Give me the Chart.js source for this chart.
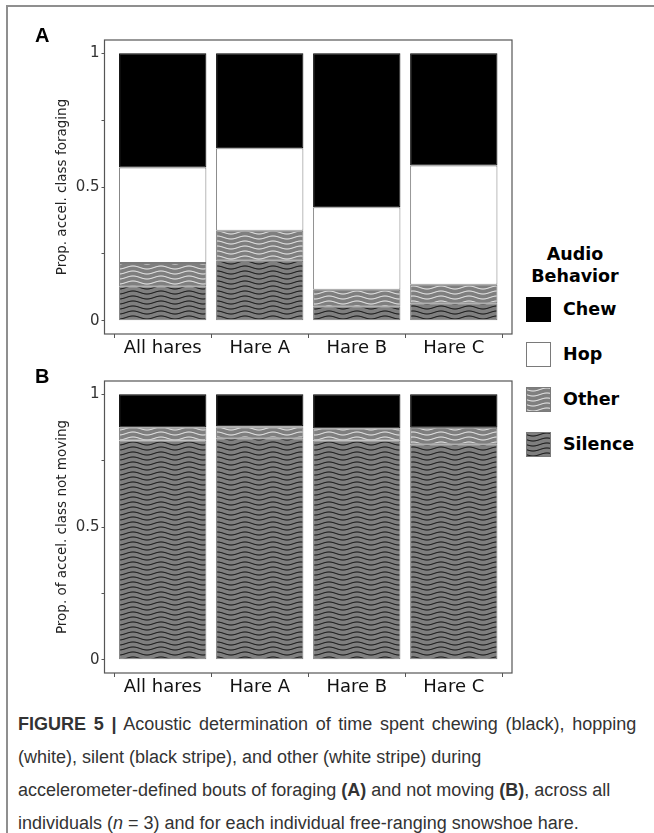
<!DOCTYPE html>
<html><head><meta charset="utf-8">
<script src="https://cdn.jsdelivr.net/npm/chart.js@4"></script>
<style>
html,body{margin:0;padding:0;background:#fff;width:654px;height:833px;overflow:hidden;position:relative;}
#frame{position:absolute;left:6px;top:5px;width:700px;height:900px;border-left:2px solid #8f8f8f;border-top:2px solid #8f8f8f;}
canvas.panel{position:absolute;left:0;}
.letter{position:absolute;font:bold 20px "Liberation Sans",Arial,sans-serif;color:#000;}
#legTitle{position:absolute;left:520px;width:110px;top:243px;text-align:center;font:bold 17.5px "DejaVu Sans";line-height:22px;color:#000;}
.key{position:absolute;left:526px;width:25px;height:25px;}
.klab{position:absolute;left:563px;font:bold 17.5px "DejaVu Sans";line-height:25px;color:#000;}
#caption{position:absolute;left:18px;top:708px;width:640px;font:18px "Liberation Sans",Arial,sans-serif;line-height:33px;color:#333;white-space:nowrap;}
#caption .l1{word-spacing:2.7px;}
</style></head>
<body>
<div id="frame"></div>
<canvas id="cA" class="panel" width="520" height="366" style="top:0px"></canvas>
<canvas id="cB" class="panel" width="520" height="364" style="top:341px"></canvas>
<div class="letter" style="left:35px;top:24px">A</div>
<div class="letter" style="left:35px;top:365px">B</div>
<div id="legTitle">Audio<br>Behavior</div>
<div id="legend"></div>
<div id="caption"><span class="l1"><b>FIGURE 5 |</b> Acoustic determination of time spent chewing (black), hopping</span><br>(white), silent (black stripe), and other (white stripe) during<br>accelerometer-defined bouts of foraging <b>(A)</b> and not moving <b>(B)</b>, across all<br>individuals (<i>n</i> = 3) and for each individual free-ranging snowshoe hare.</div>
<script>
// ---- data ----
const categories = ['All hares', 'Hare A', 'Hare B', 'Hare C'];
const behaviors = ['Silence', 'Other', 'Hop', 'Chew'];
const legendOrder = ['Chew', 'Hop', 'Other', 'Silence'];
const yTickValues = [0, 0.5, 1];
const yTickLabels = ['0', '0.5', '1'];
// Panel A: foraging
const foragingSilence = [0.129, 0.224, 0.052, 0.065];
const foragingOther   = [0.087, 0.112, 0.064, 0.069];
const foragingHop     = [0.357, 0.309, 0.308, 0.446];
const foragingChew    = [0.427, 0.355, 0.576, 0.420];
// Panel B: not moving
const stillSilence = [0.826, 0.834, 0.826, 0.812];
const stillOther   = [0.049, 0.042, 0.045, 0.062];
const stillHop     = [0.000, 0.004, 0.000, 0.000];
const stillChew    = [0.125, 0.120, 0.129, 0.126];

function waveTile(lineColor){
  const c = document.createElement('canvas');
  c.width = 28; c.height = 5;
  const g = c.getContext('2d');
  g.fillStyle = '#7f7f7f'; g.fillRect(0,0,28,5);
  g.strokeStyle = lineColor; g.lineWidth = 1;
  for (let k=-1;k<=1;k++){
    g.beginPath();
    for (let x=0;x<=28;x+=0.5){
      const y = 2.5 + k*5 + 1.5*Math.sin(2*Math.PI*x/28);
      if (x===0) g.moveTo(x,y); else g.lineTo(x,y);
    }
    g.stroke();
  }
  return c;
}
const tiles = {Silence: waveTile('#000'), Other: waveTile('#fff')};

const boxPlugin = {id:'box', afterDraw(chart){
  const {ctx, chartArea:a} = chart;
  ctx.save(); ctx.strokeStyle='#555'; ctx.lineWidth=1.2;
  ctx.strokeRect(a.left, a.top, a.right-a.left, a.bottom-a.top);
  ctx.restore();
}};

function makePanel(id, series, title){
  const canvas = document.getElementById(id);
  const ctx = canvas.getContext('2d');
  const fills = {
    Silence: ctx.createPattern(tiles.Silence,'repeat'),
    Other: ctx.createPattern(tiles.Other,'repeat'),
    Hop: '#ffffff', Chew: '#000000'
  };
  const datasets = behaviors.map((b,i)=>({
    label: b,
    data: series[i].map((v,j)=>({x:j+1, y:v})),
    backgroundColor: fills[b],
    borderColor: b==='Chew' ? '#000' : '#7a7a7a',
    borderWidth: 1,
    borderSkipped: false,
    categoryPercentage: 1,
    barPercentage: 0.9
  }));
  return new Chart(ctx, {
    type:'bar',
    data:{datasets},
    plugins:[boxPlugin],
    options:{
      responsive:false, animation:false, maintainAspectRatio:false,
      layout:{padding:{top:40, right:8, left:0, bottom:0}},
      plugins:{legend:{display:false}, tooltip:{enabled:false}},
      scales:{
        x:{type:'linear', min:0.4, max:4.6, offset:false, stacked:true,
          afterBuildTicks:s=>{ s.ticks = categories.map((c,i)=>({value:i+1})); },
          ticks:{callback:v=>categories[Math.round(v)-1] || '', color:'#111',
            font:{family:'DejaVu Sans', size:18}, padding:0, maxRotation:0, autoSkip:false},
          grid:{display:true, drawOnChartArea:false, tickLength:4, color:'#555', lineWidth:1},
          border:{display:false},
          afterFit:s=>{ s.height = 32; }
        },
        y:{min:-0.05, max:1.05, stacked:true,
          afterBuildTicks:s=>{ s.ticks = [0,0.25,0.5,0.75,1].map(v=>({value:v})); },
          ticks:{callback:v=>{const i=yTickValues.indexOf(v); return i>=0 ? yTickLabels[i] : '';},
            color:'#333', font:{family:'DejaVu Sans', size:15}, padding:2},
          grid:{display:true, drawOnChartArea:false, tickLength:3, color:'#555', lineWidth:1},
          border:{display:false},
          title:{display:true, text:title, color:'#222', font:{family:'DejaVu Sans', size:13.5}, padding:{top:54, bottom:0}},
          afterFit:s=>{ s.width = 104.5; }
        }
      }
    }
  });
}

makePanel('cA', [foragingSilence, foragingOther, foragingHop, foragingChew], 'Prop. accel. class foraging');
makePanel('cB', [stillSilence, stillOther, stillHop, stillChew], 'Prop. of accel. class not moving');

// legend (HTML, same fills)
const leg = document.getElementById('legend');
legendOrder.forEach((b,i)=>{
  const top = 297 + i*45;
  const k = document.createElement('canvas');
  k.width = 25; k.height = 25; k.className = 'key'; k.style.top = top+'px';
  const g = k.getContext('2d');
  if (tiles[b]) { g.fillStyle = g.createPattern(tiles[b],'repeat'); }
  else { g.fillStyle = b==='Chew' ? '#000' : '#fff'; }
  g.fillRect(0,0,25,25);
  g.strokeStyle = b==='Chew' ? '#000' : '#7a7a7a'; g.lineWidth = 1;
  g.strokeRect(0.5,0.5,24,24);
  leg.appendChild(k);
  const l = document.createElement('div');
  l.className = 'klab'; l.style.top = top+'px'; l.textContent = b;
  leg.appendChild(l);
});
</script>
</body></html>
